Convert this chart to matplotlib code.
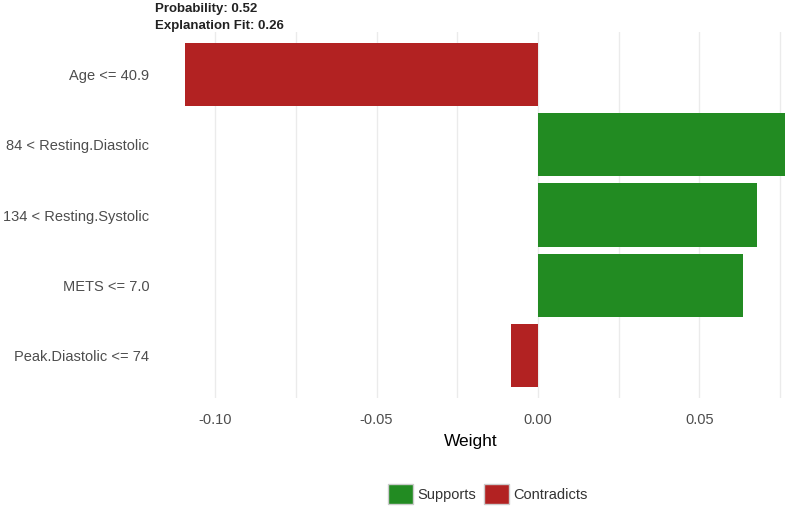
import matplotlib
matplotlib.use("Agg")
import matplotlib.pyplot as plt
from matplotlib.patches import Patch

features = ["Age <= 40.9", "84 < Resting.Diastolic", "134 < Resting.Systolic",
            "METS <= 7.0", "Peak.Diastolic <= 74"]
weights = [-0.1093, 0.0765, 0.0678, 0.0635, -0.0083]
xticks = [-0.10, -0.05, 0.00, 0.05]
xticklabels = ["-0.10", "-0.05", "0.00", "0.05"]
minor_ticks = [-0.075, -0.025, 0.025, 0.075]
probability = 0.52
fit = 0.26

plt.rcParams['font.family'] = ['Liberation Sans', 'DejaVu Sans']
GREEN = "#228B22"
RED = "#B22222"

fig = plt.figure(figsize=(7.87, 5.09), dpi=100)
ax = fig.add_axes([0.197, 0.218, 0.803, 0.719])

colors = [GREEN if w > 0 else RED for w in weights]
ypos = list(range(len(features)))
ax.barh(ypos, weights, height=0.9, color=colors, zorder=3)
ax.set_ylim(len(features) - 0.4, -0.6)
ax.set_xlim(-0.1186, 0.0771)

ax.set_yticks(ypos)
ax.set_yticklabels(features, fontsize=10.5, color="#4d4d4d")
ax.set_xticks(xticks)
ax.set_xticklabels(xticklabels, fontsize=10.5, color="#4d4d4d")
ax.set_xticks(minor_ticks, minor=True)
ax.tick_params(axis='x', which='both', length=0, pad=11)
ax.tick_params(axis='y', which='both', length=0, pad=4)
ax.grid(axis='x', which='both', color="#ebebeb", linewidth=1.0, zorder=0)
ax.grid(axis='y', visible=False)
for s in ax.spines.values():
    s.set_visible(False)
ax.set_xlabel("Weight", fontsize=12.5, color="black", labelpad=5)

fig.text(0.197, 0.983, f"Probability: {probability:.2f}", fontsize=9.5, fontweight='bold',
         color="#222222", ha='left', va='center')
fig.text(0.197, 0.948, f"Explanation Fit: {fit:.2f}", fontsize=9.5, fontweight='bold',
         color="#222222", ha='left', va='center')

handles = [Patch(facecolor=GREEN, edgecolor="#cccccc", label="Supports"),
           Patch(facecolor=RED, edgecolor="#cccccc", label="Contradicts")]
fig.legend(handles=handles, loc='center', bbox_to_anchor=(0.62, 0.029), ncol=2,
           frameon=False, fontsize=10.5, handlelength=1.7, handleheight=1.7,
           handletextpad=0.35, columnspacing=0.5, labelcolor="#333333")

fig.savefig("out.png", dpi=100)
